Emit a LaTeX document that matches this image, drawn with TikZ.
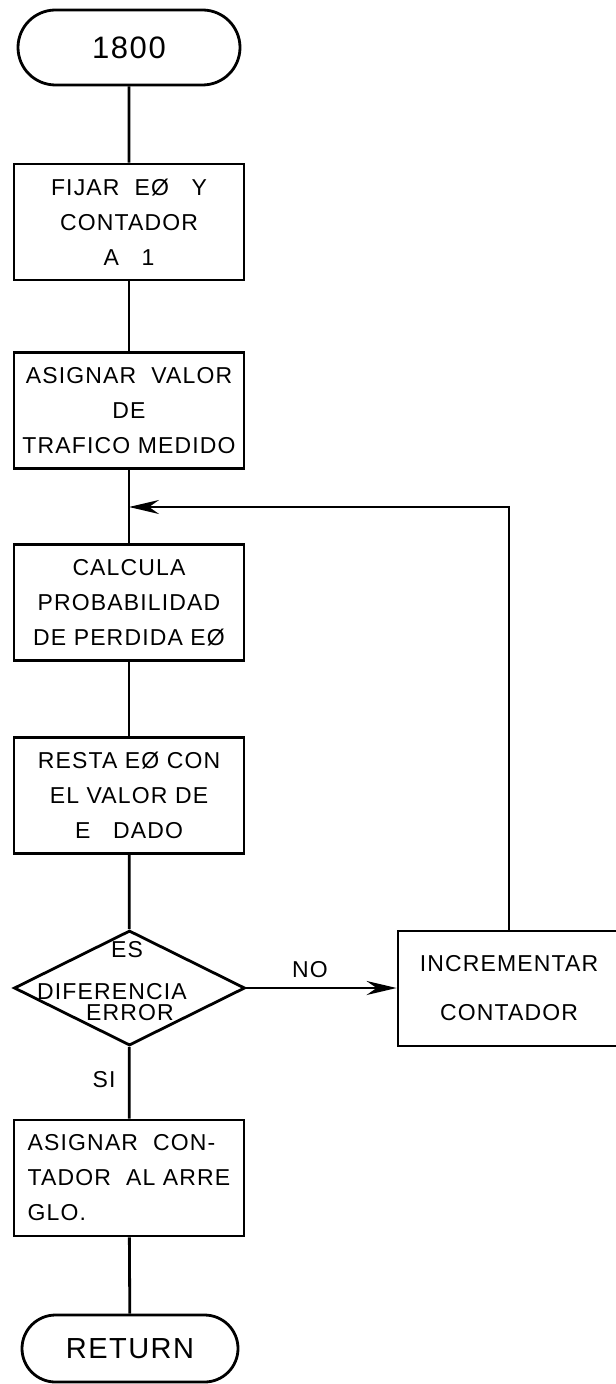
\documentclass[tikz,border=0pt]{standalone}
\usepackage{fontspec}
\setmainfont{Liberation Sans}[LetterSpace=5]
\usepackage{tikz}
\usetikzlibrary{arrows.meta,positioning,shapes.geometric,shapes.misc}

\begin{document}
\begin{tikzpicture}[
  x=0.5pt, y=-0.5pt,
  line width=1.4pt,
  every node/.style={font=\fontsize{11.5}{17.5}\selectfont},
  caja/.style={draw,rectangle,inner sep=0pt,minimum width=115pt,minimum height=58pt,align=center},
  term/.style={draw,rounded rectangle,inner sep=0pt,minimum width=111pt,minimum height=37.5pt},
  decis/.style={draw,diamond,inner sep=0pt,minimum width=115.5pt,minimum height=57.5pt},
  flecha/.style={-{Stealth[length=15pt,width=7pt,inset=5pt]}}
]
\useasboundingbox (0,0) rectangle (615,1384);

\node[term,font=\fontsize{15.5}{18}\selectfont] (ini) at (129,47.5) {1800};
\node[caja] (fijar) at (129,222) {FIJAR\ \ EØ\ \ \ Y\\CONTADOR\\A\ \ \ 1};
\node[caja] (asig) at (129,410.5) {ASIGNAR\ \ VALOR\\DE\\TRAFICO MEDIDO};
\coordinate (lazo) at (129,507);
\node[caja] (calc) at (129,602.5) {CALCULA\\PROBABILIDAD\\DE PERDIDA EØ};
\node[caja] (resta) at (129,795.5) {RESTA EØ\ CON\\EL VALOR DE\\E\ \ \ DADO};
\node[decis] (dif) at (129.5,988) {};
\node at (127,950) {ES};
\node[align=center,font=\fontsize{11.5}{10.5}\selectfont] at (112,1002.5) {DIFERENCIA\\\hspace*{18pt}ERROR};
\node[caja,minimum width=111pt,minimum height=57.5pt,font=\fontsize{11.5}{24.5}\selectfont] (incr) at (509,988.5) {INCREMENTAR\\CONTADOR};
\node[caja,align=left] (arreglo) at (129,1178) {ASIGNAR\ \ CON-\\TADOR\ \ AL ARRE\\GLO.};
\node[term,minimum width=108pt,minimum height=33.5pt,font=\fontsize{14.5}{17}\selectfont] (ret) at (130,1348.5) {RETURN};

\node (no) at (310,970) {NO};
\node (si) at (104,1080) {SI};

\draw (ini) -- (fijar);
\draw (fijar) -- (asig);
\draw (asig) -- (calc);
\draw (calc) -- (resta);
\draw (resta) -- (dif);
\draw (dif) -- (arreglo);
\draw (arreglo) -- (ret);
\draw[flecha] (dif.east) -- (dif.east -| incr.west);
\draw[flecha] (incr.north) |- (lazo);
\end{tikzpicture}
\end{document}
